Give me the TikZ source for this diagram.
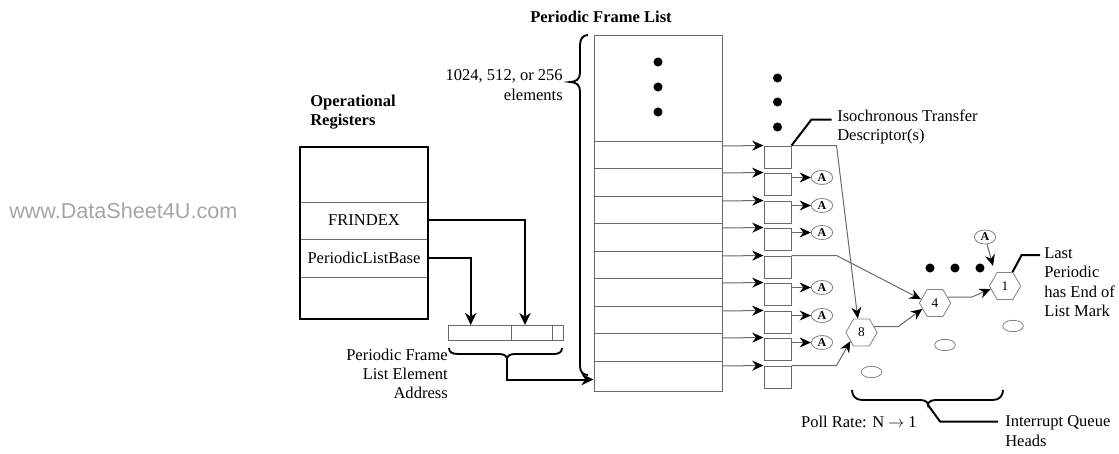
\documentclass[tikz,border=0pt]{standalone}
\usepackage{fontspec}
\setmainfont{Liberation Serif}
\newfontfamily\wmfont{Liberation Sans}
\usetikzlibrary{arrows.meta,shapes.geometric,calc}
\definecolor{lg}{RGB}{105,105,105}
\definecolor{hg}{RGB}{130,130,130}
\definecolor{wm}{RGB}{165,165,165}
\begin{document}
\begin{tikzpicture}[x=0.75pt,y=-0.75pt,
  every node/.style={font=\fontsize{12.4}{14.5}\selectfont, inner sep=0pt},
  conn/.style={lg, line width=0.75pt, -{Stealth[length=8.5pt,width=7.5pt,inset=2.8pt,color=black]}},
  thickconn/.style={black, line width=1.5pt, -{Stealth[length=9pt,width=8.5pt,inset=2.8pt]}},
  leader/.style={black, line width=1.5pt},
  bracestyle/.style={black, line width=1.4pt},
  gline/.style={lg, line width=0.75pt},
  tdbox/.style={draw=lg, line width=0.75pt, minimum width=20.25pt, minimum height=16.5pt},
  aell/.style={ellipse, draw=hg, line width=0.6pt, minimum width=16pt, minimum height=10.5pt, font=\fontsize{9}{9}\selectfont\bfseries},
  qh/.style={ellipse, draw=hg, line width=0.6pt, minimum width=15.5pt, minimum height=8.5pt},
  hexa/.style={regular polygon, regular polygon sides=6, draw=hg, line width=0.6pt, minimum size=23.5pt, font=\fontsize{10}{10}\selectfont},
  bigdot/.style={circle, fill=black, minimum size=6.8pt},
  title/.style={font=\fontsize{12.4}{14.5}\selectfont\bfseries}
]
\useasboundingbox (0,0) rectangle (1119,453);

% watermark
\node[anchor=west, font=\wmfont\fontsize{16.2}{18}\selectfont, text=wm] (wmark) at (9,211) {www.DataSheet4U.com};

% titles
\node[title] (pfltitle) at (601,17) {Periodic Frame List};
\node[title, anchor=west, align=left] (opreg) at (310,112) {Operational\\Registers};
\node[anchor=east, align=right] (nelem) at (563,85) {1024, 512, or 256\\elements};

% operational registers
\draw[gline] (300,202) -- (428,202);
\draw[gline] (300,239) -- (428,239);
\draw[gline] (300,277) -- (428,277);
\node[draw=black, line width=1.5pt, minimum width=96pt, minimum height=129pt] (reg) at (364,233) {};
\node (frindex) at (364,220) {FRINDEX};
\node (plb) at (364,257.5) {PeriodicListBase};

% address box
\node[draw=lg, line width=0.75pt, minimum width=86.25pt, minimum height=11.25pt] (addr) at (505.5,332.5) {};
\draw[gline] (511,325) -- (511,340);
\draw[gline] (552,325) -- (552,340);
\coordinate (addrF) at (525,325);
\coordinate (addrP) at (470.7,325);
\draw[thickconn] (reg.east |- frindex) -| (addrF);
\draw[thickconn] (reg.east |- plb) -| (addrP);

% address brace
\coordinate (abt) at (507,359);
\draw[bracestyle] (449,348) .. controls (449,352) and (452,354) .. (458,354) -- (499,354) .. controls (504,354) and (507,356) .. (abt) .. controls (507,356) and (510,354) .. (515,354) -- (554,354) .. controls (559,354) and (562,352) .. (562,348);
\node[anchor=east, align=right] (pflea) at (448,374) {Periodic Frame\\List Element\\Address};

% frame list
\node[draw=lg, line width=0.75pt, minimum width=96pt, minimum height=266.25pt] (pfl) at (658,213.5) {};
\foreach \yy in {141,168,196,223,251,278,306,333,361}
  \draw[gline] (594,\yy) -- (722,\yy);
\draw[thickconn] (abt) |- ($(pfl.south west)+(0,-12)$);

% big brace
\coordinate (lbt) at (570,82);
\draw[bracestyle] (588,35) .. controls (583,35) and (580,39) .. (580,45) -- (580,73) .. controls (580,79) and (576,82) .. (lbt) .. controls (576,82) and (580,85) .. (580,91) -- (580,366) .. controls (580,372) and (583,375) .. (588,375);

% dots
\foreach \yy in {62,87,112} \node[bigdot] at (658,\yy) {};
\foreach \yy in {78,102,127} \node[bigdot] at (777.5,\yy) {};
\foreach \xx in {930,955,980} \node[bigdot] at (\xx,268) {};

% TD boxes and pointers
\foreach \t [count=\i] in {146,173,201,228,256,283,311,338,366} {
  \node[tdbox] (td\i) at (777.5,\t+11) {};
  \coordinate (fr\i) at (722,\t);
  \draw[conn] (fr\i) -- (td\i.north west);
}
\foreach \i/\t in {2/173,3/201,4/228,6/283,7/311,8/338} {
  \node[aell] (a\i) at (822,\t+4.5) {A};
  \draw[conn] (td\i.east |- a\i) -- (a\i.west);
}

% queue heads
\node[hexa] (h8) at (861.5,332.5) {8};
\node[hexa] (h4) at (935,303) {4};
\node[hexa] (h1) at (1005,286) {1};
\node[qh] (q1) at (1013,326) {};
\node[qh] (q2) at (945,345) {};
\node[qh] (q3) at (871.5,372) {};

\draw[conn] (td1.north east) -- ++(45,0) -- (h8.105);
\draw[conn] (td5.north east) -- ++(45,0) -- (h4.165);
\draw[conn] (td9.north east) -- ++(45,0) -- (h8.218);
\draw[conn] (h8.25) -- ++(24,0) -- (h4.205);
\draw[conn] (h4.25) -- ++(24,0) -- (h1.192);
\node[aell] (atop) at (985,237) {A};
\coordinate (atip) at (993,266);
\draw[conn] (atop) -- (atip);

% labels with leaders
\node[anchor=west, align=left] (itd) at (837,127) {Isochronous Transfer\\Descriptor(s)};
\draw[leader] (td1.north east) -- ++(20,-26) -- ++(20,0);
\node[anchor=west, align=left] (lastp) at (1044,282) {Last\\Periodic\\has End of\\List Mark};
\draw[leader] (h1.62) -- (1021.7,255) -- (1040,255);

% poll brace
\coordinate (pbt) at (928,405);
\draw[bracestyle] (852,390) .. controls (852,395) and (855,400) .. (862,400) -- (920,400) .. controls (925,400) and (928,402) .. (pbt) .. controls (928,402) and (931,400) .. (936,400) -- (993,400) .. controls (1000,400) and (1003,395) .. (1003,390);
\draw[leader] (pbt) -- (940,421.5) -- (998,421.5);
\node[anchor=east] (poll) at (917,422) {Poll Rate: N $\rightarrow$ 1};
\node[anchor=west, align=left] (iqh) at (1005,431) {Interrupt Queue\\Heads};
\end{tikzpicture}
\end{document}
